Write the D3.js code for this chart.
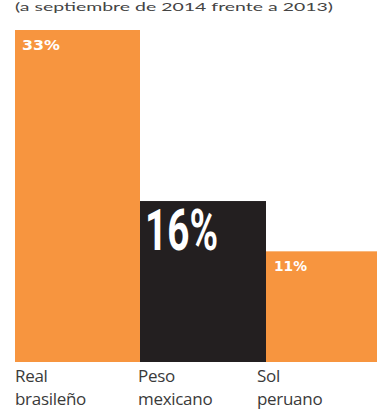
<!DOCTYPE html>
<html><head><meta charset="utf-8">
<script src="https://cdn.jsdelivr.net/npm/d3@7"></script>
<style>body{margin:0;background:#fff}svg{display:block}</style>
</head><body>
<svg id="c" width="377" height="410"></svg>
<script>
const categories = [["Real","brasileño"],["Peso","mexicano"],["Sol","peruano"]];
const values = [33, 16, 11];
const valueLabels = ["33%","16%","11%"];
const colors = ["#F7953F","#231F20","#F7953F"];
const title = "(a septiembre de 2014 frente a 2013)";

const svg = d3.select("#c");
const baseY = 362;
const x = d3.scaleBand().domain(d3.range(values.length)).range([14, 392]).paddingInner(0).paddingOuter(0);
const y = d3.scaleLinear().domain([0, 33]).range([baseY, 30]);

svg.append("text").attr("x", 15).attr("y", 11).attr("font-family", "Lato, sans-serif")
  .attr("font-size", 12).attr("fill", "#444")
  .attr("textLength", 318).attr("lengthAdjust", "spacingAndGlyphs").text(title);

svg.selectAll("rect.bar").data(values).join("rect").attr("class","bar")
  .attr("x", (d,i)=>x(i)+ (i===0?1:0)).attr("width", (d,i)=>x.bandwidth() - (i===0?1:0))
  .attr("y", d=>y(d)).attr("height", d=>baseY - y(d))
  .attr("fill", (d,i)=>colors[i]);

const big = i => i===1;
svg.selectAll("text.val").data(values).join("text").attr("class","val")
  .attr("x", (d,i)=>x(i) + (big(i) ? 5 : 8))
  .attr("y", (d,i)=> y(d) + (big(i) ? 49 : 20))
  .attr("font-family", (d,i)=> big(i) ? "Roboto, sans-serif" : "'DejaVu Sans Condensed', 'DejaVu Sans', sans-serif")
  .attr("font-weight", "bold")
  .attr("font-size", (d,i)=> big(i) ? 57 : 14)
  .attr("textLength", (d,i)=> big(i) ? 73 : (i===0 ? 38 : 33))
  .attr("lengthAdjust", "spacingAndGlyphs")
  .attr("fill", "#fff")
  .text((d,i)=>valueLabels[i]);

const labelShift = [0, -3, -10];
const lab = svg.selectAll("text.cat").data(categories).join("text").attr("class","cat")
  .attr("x", (d,i)=>x(i)+1+labelShift[i]).attr("y", 382)
  .attr("font-family", "'Open Sans', sans-serif").attr("font-size", 17).attr("fill", "#3a3a3a")
  .attr("letter-spacing", -0.3);
lab.selectAll("tspan").data(d=>d).join("tspan")
  .attr("x", function(){return this.parentNode.getAttribute("x");})
  .attr("dy", (d,j)=> j===0 ? 0 : 23).text(d=>d);
</script>
</body></html>
